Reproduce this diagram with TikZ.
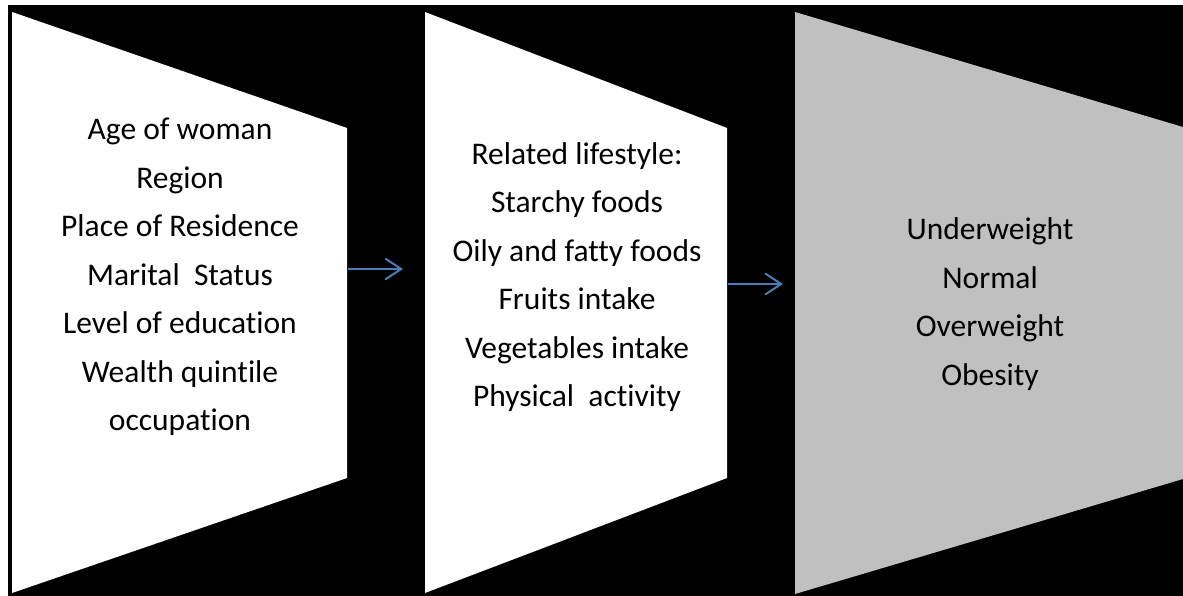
\documentclass[tikz,border=0pt]{standalone}
\usepackage{fontspec}
\setmainfont[Ligatures={NoCommon}]{Carlito}
\usetikzlibrary{arrows.meta}
\definecolor{arrowblue}{HTML}{4A7EBB}
\definecolor{panelgray}{HTML}{C0C0C0}
\tikzset{
  paneltext/.style={align=center, font=\fontsize{31.5}{48.5}\selectfont, text=black, inner sep=0pt},
  flowarrow/.style={draw=arrowblue, line width=2pt, -{Straight Barb[length=16pt,width=21pt,line width=2pt]}}
}
\begin{document}
\begin{tikzpicture}[x=1pt,y=-1pt]
\useasboundingbox (0,0) rectangle (1183,596);
\fill[white] (0,0) rectangle (1183,596);
\fill[black] (8,5) rectangle (1183,596);
% panels
\fill[white] (12,12) -- (347,128) -- (347,478) -- (12,593) -- cycle;
\fill[white] (425,12) -- (727,128) -- (727,478) -- (425,593) -- cycle;
\fill[panelgray] (795,12) -- (1183,127) -- (1183,479) -- (795,594) -- cycle;
% text
\node[paneltext] (t1) at (180,277) {Age of woman\\Region\\Place of Residence\\Marital\ \ Status\\Level of education\\Wealth quintile\\occupation};
\node[paneltext] (t2) at (577,277) {Related lifestyle:\\Starchy foods\\Oily and fatty foods\\Fruits intake\\Vegetables intake\\Physical\ \ activity};
\node[paneltext] (t3) at (990,304) {Underweight\\Normal\\Overweight\\Obesity};
% arrows
\coordinate (a1s) at (348,269);
\coordinate (a1e) at (403,269);
\coordinate (a2s) at (728,284);
\coordinate (a2e) at (783,284);
\draw[flowarrow] (a1s) -- (a1e);
\draw[flowarrow] (a2s) -- (a2e);
\end{tikzpicture}
\end{document}
